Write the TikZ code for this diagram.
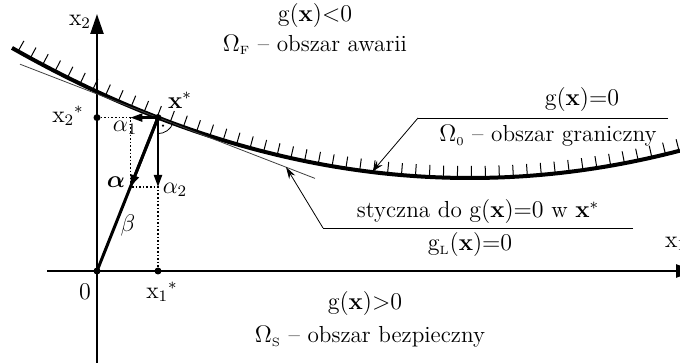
\documentclass[tikz,border=0pt]{standalone}
\usepackage{amsmath}
\usetikzlibrary{arrows.meta,decorations.markings,calc}
\begin{document}
\begin{tikzpicture}[x=0.5pt, y=-0.5pt,
  font=\fontsize{11.6}{14}\selectfont,
  axis/.style={line width=1.2pt, -{Triangle[length=10pt,width=6.5pt]}},
  limit/.style={line width=2pt},
  vec/.style={line width=1.1pt, -{Triangle[length=6pt,width=4pt]}},
  guide/.style={densely dotted, line width=0.8pt},
  leader/.style={line width=0.4pt},
  pointer/.style={line width=0.4pt, -{Stealth[length=6pt,width=3.5pt]}},
  dot/.style={circle, fill, inner sep=0pt, minimum size=3.5pt},
  lbl/.style={inner sep=1pt}
]
\useasboundingbox (0,0) rectangle (680,363);

% Axes
\coordinate (o) at (97,271);
\coordinate (xa0) at (47,271);
\coordinate (xa1) at (696,271);
\coordinate (ya0) at (97,363);
\coordinate (ya1) at (97,14);
\draw[axis] (xa0) -- (xa1);
\draw[axis] (ya0) -- (ya1);

% Limit state surface with hatches
\draw[limit, postaction={decorate}, decoration={markings,
    mark=between positions 0.01 and 1 step 7pt with {\draw[line width=0.5pt] (0,0) -- (0,6pt);}}]
  plot[domain=12:680, samples=80] (\x, {178-(0.0249*(\x-470))^2});

% Design point and tangent
\coordinate (xs) at (158,117.6);
\coordinate (t0) at (20,64.2);
\coordinate (t1) at (315,178.4);
\draw[leader, black!75] (t0) -- (t1);
\coordinate (a) at ($(o)!0.548!(xs)$);
\coordinate (x2s) at (o |- xs);
\coordinate (x1s) at (xs |- o);
\coordinate (a1) at (a |- xs);
\coordinate (a2) at (a -| xs);

% Projections
\draw[guide] (x2s) -- (a1) -- (a) -- (a2) -- (x1s);

% Vectors
\draw[line width=1.5pt] (o) -- (xs);
\draw[vec] (xs) -- (a1);
\draw[vec] (xs) -- (a2);
\draw[vec, line width=1.5pt] (xs) -- (a);

% Right angle
\draw[leader] (xs) ++(0,16) arc[start angle=-90, end angle=-21, radius=8pt];
\fill ($(xs)+(5,8)$) circle (0.6pt);

% Points
\node[dot] (po) at (o) {};
\node[dot] (px2) at (x2s) {};
\node[dot] (px1) at (x1s) {};
\node[dot] (pxs) at (xs) {};

% Labels
\node[lbl] (lx2) at (80,22) {$\mathrm{x}_2$};
\node[lbl] (lx1) at (676,244) {$\mathrm{x}_1$};
\node[lbl] (lx2s) at (68,116) {$\mathrm{x}_2{}^*$};
\node[lbl] (lx1s) at (162,292) {$\mathrm{x}_1{}^*$};
\node[lbl] (l0) at (85,292) {$0$};
\node[lbl] (lxs) at (180,100) {$\mathbf{x}^*$};
\node[lbl] (la1) at (125,128) {$\alpha_1$};
\node[lbl] (la2) at (175,190) {$\alpha_2$};
\node[lbl] (la) at (116,182) {$\boldsymbol{\alpha}$};
\node[lbl] (lb) at (128,226) {$\beta$};

% Regions
\node[lbl] (fail1) at (315,16) {$\mathrm{g}(\mathbf{x}){<}0$};
\node[lbl] (fail2) at (315,45) {$\Omega_{\scriptscriptstyle\mathrm{F}}$ -- obszar awarii};
\node[lbl] (safe1) at (365,304) {$\mathrm{g}(\mathbf{x}){>}0$};
\node[lbl] (safe2) at (370,337) {$\Omega_{\scriptscriptstyle\mathrm{S}}$ -- obszar bezpieczny};

% Limit state label
\node[lbl] (lim1) at (582,100) {$\mathrm{g}(\mathbf{x}){=}0$};
\node[lbl] (lim2) at (548,136) {$\Omega_{\scriptscriptstyle 0}$ -- obszar graniczny};
\coordinate (u0) at (418,118);
\coordinate (u1) at (668,118);
\coordinate (c0) at (372,172);
\draw[leader] (u1) -- (u0);
\draw[pointer] (u0) -- (c0);

% Tangent label
\node[lbl] (tan1) at (478,212) {styczna do $\mathrm{g}(\mathbf{x}){=}0$ w $\mathbf{x}^*$};
\node[lbl] (tan2) at (470,245) {$\mathrm{g}_{\scriptscriptstyle\mathrm{L}}(\mathbf{x}){=}0$};
\coordinate (v0) at (323,228);
\coordinate (v1) at (633,228);
\coordinate (c1) at (286,167);
\draw[leader] (v1) -- (v0);
\draw[pointer] (v0) -- (c1);
\end{tikzpicture}
\end{document}
